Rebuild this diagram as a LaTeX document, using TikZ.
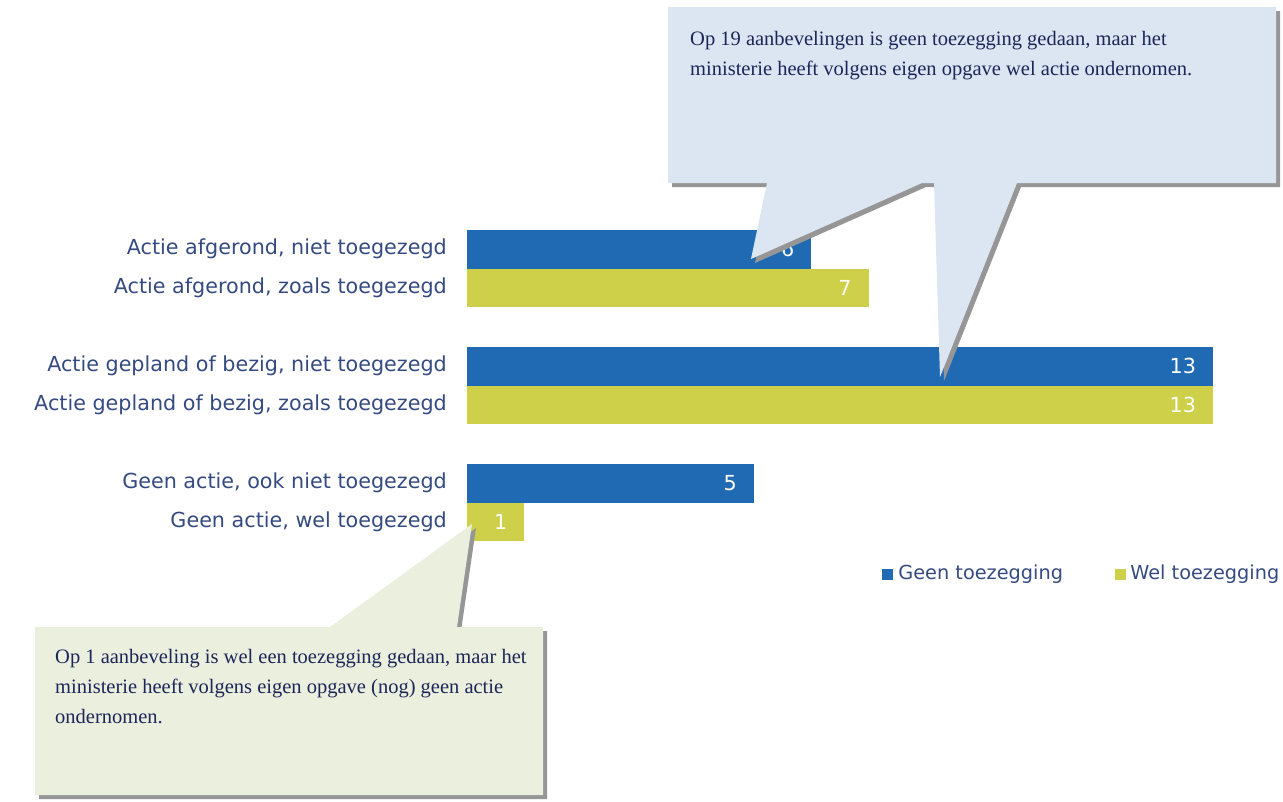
\documentclass[tikz,border=0pt]{standalone}
\usepackage{fontspec}
\setmainfont{Liberation Serif}
\newfontfamily\chartfont{DejaVu Sans}
\usetikzlibrary{positioning}

\definecolor{geenblue}{RGB}{31,106,179}
\definecolor{welgreen}{RGB}{205,208,72}
\definecolor{labelblue}{RGB}{52,74,128}
\definecolor{notetext}{RGB}{28,38,88}
\definecolor{noteblue}{RGB}{220,230,242}
\definecolor{notegreen}{RGB}{235,239,222}
\definecolor{noteshadow}{RGB}{150,150,150}

\tikzset{
  bar/.style = {minimum height=38.5pt, inner sep=0pt, outer sep=0pt},
  geen/.style = {bar, fill=geenblue},
  wel/.style = {bar, fill=welgreen},
  lbl/.style = {inner sep=0pt, text=labelblue, font=\chartfont\fontsize{20.7}{24}\selectfont},
  val/.style = {inner sep=0pt, text=white, font=\chartfont\fontsize{20.7}{24}\selectfont},
  key/.style = {minimum size=11pt, inner sep=0pt},
  keytxt/.style = {lbl, font=\chartfont\fontsize{19.3}{23}\selectfont},
  notetxt/.style = {inner sep=0pt, align=left, text=notetext, font=\fontsize{20.5}{30}\selectfont},
  noteshade/.style = {fill=noteshadow, shift={(4,4)}},
}

\newcommand{\unitw}{57.4pt}
\newcommand{\topnote}{(668,7) -- (1276,7) -- (1276,183) -- (1017,183) -- (940,377) -- (934,183) -- (922,183) -- (751,259) -- (767,183) -- (668,183) -- cycle}
\newcommand{\lownote}{(35,627) -- (330,627) -- (472,524) -- (457,627) -- (543,627) -- (543,795) -- (35,795) -- cycle}

\begin{document}
\begin{tikzpicture}[x=1pt, y=-1pt]
        \useasboundingbox (0,0) rectangle (1283,801);
        % bars
        \node[geen, minimum width=6*\unitw, anchor=north west] (bar1) at (467,230) {}; %
        \node[wel, minimum width=7*\unitw, below right = 0pt and 0pt of bar1.south west] (bar2) {}; %
        \node[geen, minimum width=13*\unitw, below right = 40pt and 0pt of bar2.south west] (bar3) {}; %
        \node[wel, minimum width=13*\unitw, below right = 0pt and 0pt of bar3.south west] (bar4) {}; %
        \node[geen, minimum width=5*\unitw, below right = 40pt and 0pt of bar4.south west] (bar5) {}; %
        \node[wel, minimum width=1*\unitw, below right = 0pt and 0pt of bar5.south west] (bar6) {}; %
        % values
        \node[val, left = 17pt of bar1.east] (val1) {6}; %
        \node[val, left = 17pt of bar2.east] (val2) {7}; %
        \node[val, left = 17pt of bar3.east] (val3) {13}; %
        \node[val, left = 17pt of bar4.east] (val4) {13}; %
        \node[val, left = 17pt of bar5.east] (val5) {5}; %
        \node[val, left = 17pt of bar6.east] (val6) {1}; %
        % category labels
        \node[lbl, left = 20pt of bar1.west] (lbl1) {Actie afgerond, niet toegezegd}; %
        \node[lbl, left = 20pt of bar2.west] (lbl2) {Actie afgerond, zoals toegezegd}; %
        \node[lbl, left = 20pt of bar3.west] (lbl3) {Actie gepland of bezig, niet toegezegd}; %
        \node[lbl, left = 20pt of bar4.west] (lbl4) {Actie gepland of bezig, zoals toegezegd}; %
        \node[lbl, left = 20pt of bar5.west] (lbl5) {Geen actie, ook niet toegezegd}; %
        \node[lbl, left = 20pt of bar6.west] (lbl6) {Geen actie, wel toegezegd}; %
        % legend
        \node[key, fill=geenblue] (keygeen) at (887.5,574) {}; %
        \node[keytxt, right = 5pt of keygeen] (keygeentxt) {Geen toezegging}; %
        \node[key, fill=welgreen] (keywel) at (1120.5,574) {}; %
        \node[keytxt, right = 4pt of keywel] (keyweltxt) {Wel toezegging}; %
        % callouts
        \fill[noteshade] \topnote; %
        \fill[noteblue] \topnote; %
        \fill[noteshade] \lownote; %
        \fill[notegreen] \lownote; %
        \node[notetxt, anchor=north west] (note19) at (690,31) {Op 19 aanbevelingen is geen toezegging gedaan, maar het\\ministerie heeft volgens eigen opgave wel actie ondernomen.}; %
        \node[notetxt, anchor=north west] (note1) at (55,649) {Op 1 aanbeveling is wel een toezegging gedaan, maar het\\ministerie heeft volgens eigen opgave (nog) geen actie\\ondernomen.}; %
\end{tikzpicture}
\end{document}
